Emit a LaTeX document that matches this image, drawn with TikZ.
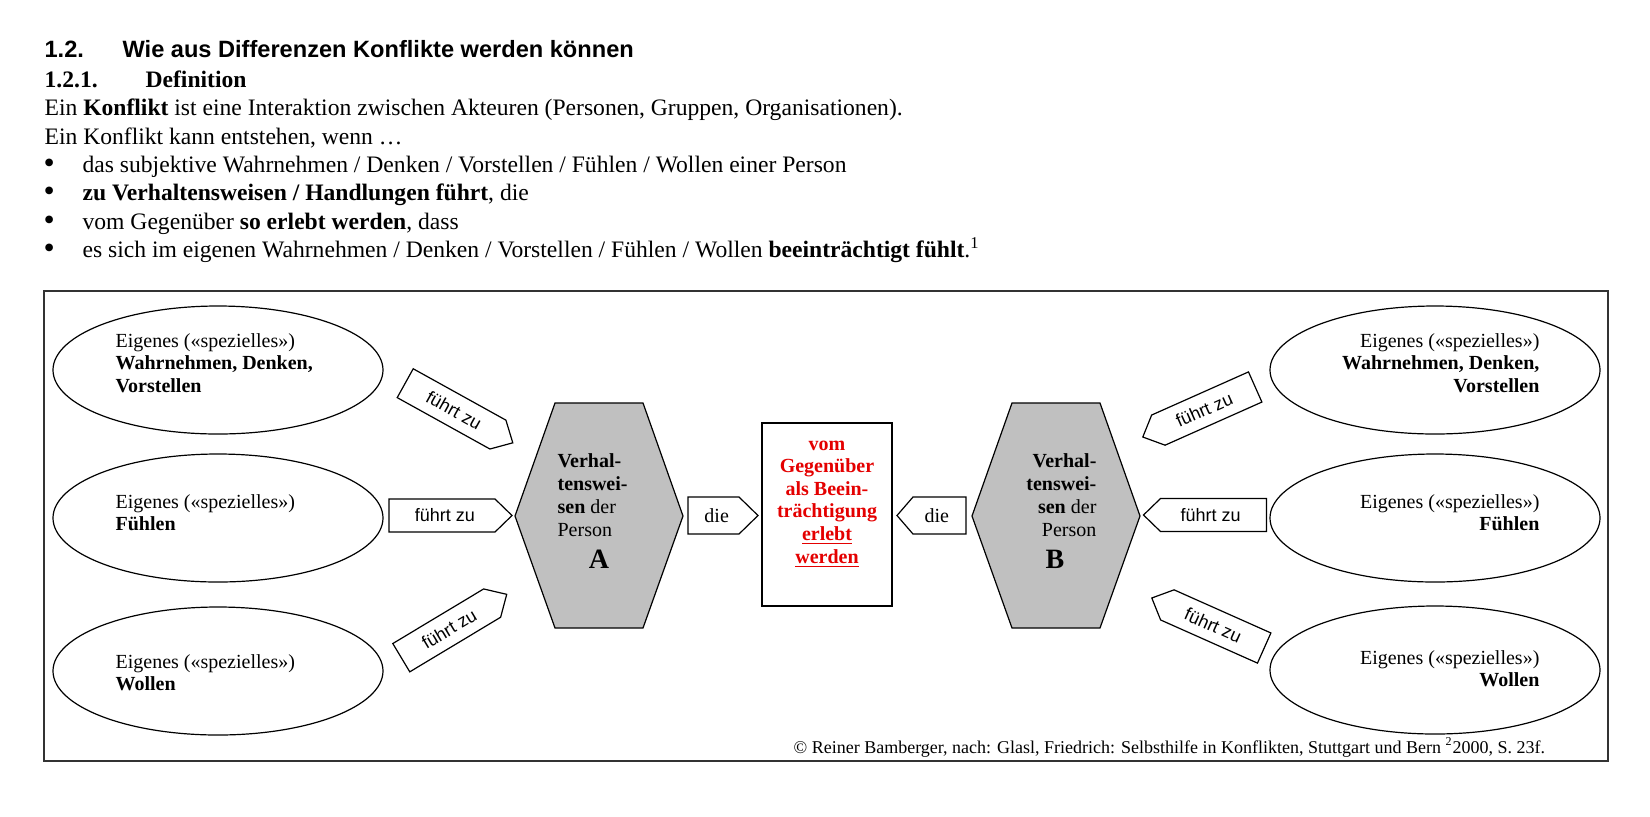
\documentclass[tikz,border=0pt]{standalone}
\usepackage{fontspec}
\setmainfont{Liberation Serif}
\newfontfamily\arialfont{Liberation Sans}
\usetikzlibrary{shapes.geometric}
\definecolor{hexgray}{RGB}{192,192,192}
\definecolor{redtext}{RGB}{228,0,0}
\newcommand\stack[2]{\begin{tabular}[t]{@{}#1@{}}#2\end{tabular}}
% arrow box: name, cx, cy, shape angle, text angle, half length, tip length, half height, text
\newcommand\pfeil[9]{%
  \begin{scope}[shift={(#2,#3)},rotate=#4]
    \draw[pfeilbox] (-#6,-#8) -- ({#6-#7},-#8) -- (#6,0) -- ({#6-#7},#8) -- (-#6,#8) -- cycle;
    \node[rotate=#5,inner sep=0] (#1) at ({-#7/3},0) {#9};
  \end{scope}}
% hexagon: name, cx
\newcommand\hexa[2]{%
  \draw[hexbox] ({#2-84},516) -- ({#2-44},403) -- ({#2+44},403) -- ({#2+84},516)
     -- ({#2+44},628) -- ({#2-44},628) -- cycle;
  \coordinate (#1) at (#2,516);}
\begin{document}
\begin{tikzpicture}[x=0.5pt,y=-0.5pt,
  line width=0.6pt,
  tl/.style={anchor=base west,inner sep=0,font=\fontsize{11.8}{14}\selectfont},
  tlb/.style={tl,font=\bfseries\fontsize{11.8}{14}\selectfont},
  bul/.style={anchor=base west,inner sep=0,font=\fontsize{16}{14}\selectfont},
  hd/.style={anchor=base west,inner sep=0,font=\arialfont\bfseries\fontsize{11.8}{14}\selectfont},
  ell/.style={ellipse,draw,minimum width=165pt,minimum height=64pt,inner sep=0},
  etext/.style={inner sep=0,font=\fontsize{10}{11.25}\selectfont},
  hext/.style={inner sep=0,font=\fontsize{10}{11.5}\selectfont},
  bigl/.style={anchor=base,inner sep=0,font=\bfseries\fontsize{14}{14}\selectfont},
  ctext/.style={anchor=base,inner sep=0,text=redtext,font=\bfseries\fontsize{10}{11.3}\selectfont},
  pfeilbox/.style={draw,fill=white,line width=0.6pt},
  hexbox/.style={draw,fill=hexgray,line width=0.6pt},
]
\useasboundingbox (0,0) rectangle (1650,816);
\fill[white] (0,0) rectangle (1650,816);

% header text
\node[hd] (n12) at (44,57) {1.2.};
\node[hd] (title) at (122,57) {Wie aus Differenzen Konflikte werden können};
\node[tlb] (n121) at (44,87) {1.2.1.};
\node[tlb] (def) at (145,87) {Definition};
\node[tl] (l1) at (44,115.5) {Ein \textbf{Konflikt} ist eine Interaktion zwischen Akteuren (Personen, Gruppen, Organisationen).};
\node[tl] (l2) at (44,144) {Ein Konflikt kann entstehen, wenn …};
\node[bul] (b1) at (43,173) {•};
\node[tl] (l3) at (82,172) {das subjektive Wahrnehmen / Denken / Vorstellen / Fühlen / Wollen einer Person};
\node[bul] (b2) at (43,201.5) {•};
\node[tl] (l4) at (82,200.5) {\textbf{zu Verhaltensweisen / Handlungen führt}, die};
\node[bul] (b3) at (43,230) {•};
\node[tl] (l5) at (82,229) {vom Gegenüber \textbf{so erlebt werden}, dass};
\node[bul] (b4) at (43,258) {•};
\node[tl] (l6) at (82,257) {es sich im eigenen Wahrnehmen / Denken / Vorstellen / Fühlen / Wollen \textbf{beeinträchtigt fühlt}.\textsuperscript{1}};

% frame
\draw[line width=0.8pt,black!80] (44,291) rectangle (1608,761);

% ellipses left
\node[ell] (eL1) at (218,370) {};
\node[ell] (eL2) at (218,518) {};
\node[ell] (eL3) at (218,671) {};
\node[etext,anchor=base west] (tL1) at (115,347) {\stack{l}{Eigenes («spezielles»)\\\textbf{Wahrnehmen, Denken,}\\\textbf{Vorstellen}}};
\node[etext,anchor=base west] (tL2) at (115,508) {\stack{l}{Eigenes («spezielles»)\\\textbf{Fühlen}}};
\node[etext,anchor=base west] (tL3) at (115,668) {\stack{l}{Eigenes («spezielles»)\\\textbf{Wollen}}};

% ellipses right
\node[ell] (eR1) at (1435,370) {};
\node[ell] (eR2) at (1435,518) {};
\node[ell] (eR3) at (1435,670) {};
\node[etext,anchor=base east] (tR1) at (1540,347) {\stack{r}{Eigenes («spezielles»)\\\textbf{Wahrnehmen, Denken,}\\\textbf{Vorstellen}}};
\node[etext,anchor=base east] (tR2) at (1540,508) {\stack{r}{Eigenes («spezielles»)\\\textbf{Fühlen}}};
\node[etext,anchor=base east] (tR3) at (1540,664) {\stack{r}{Eigenes («spezielles»)\\\textbf{Wollen}}};

% hexagons
\hexa{hexA}{599}
\hexa{hexB}{1056}
\node[hext,anchor=base west] (tA) at (557,467) {\stack{l}{\textbf{Verhal-}\\\textbf{tenswei-}\\\textbf{sen} der\\Person}};
\node[bigl] (lA) at (599,568) {A};
\node[hext,anchor=base east] (tB) at (1097,467) {\stack{r}{\textbf{Verhal-}\\\textbf{tenswei-}\\\textbf{sen} der\\Person}};
\node[bigl] (lB) at (1055,568) {B};

% centre box
\node[draw,minimum width=65pt,minimum height=91.5pt,inner sep=0] (box) at (827,514.5) {};
\node[ctext] (tbox) at (827,450) {\stack{c}{vom\\Gegenüber\\als Beein-\\trächtigung\\\underline{erlebt}\\\underline{werden}}};

% arrows "führt zu"
\pfeil{aL1}{459}{413}{-29}{-29}{61.5}{17}{16.5}{\arialfont\fontsize{9}{10}\selectfont führt zu}
\pfeil{aL2}{450.5}{515.5}{0}{0}{61.5}{17}{16.5}{\arialfont\fontsize{9}{10}\selectfont führt zu}
\pfeil{aL3}{454}{626}{31}{31}{61.5}{17}{16.5}{\arialfont\fontsize{9}{10}\selectfont führt zu}
\pfeil{aR1}{1199}{412}{204}{24}{61.5}{17}{16.5}{\arialfont\fontsize{9}{10}\selectfont führt zu}
\pfeil{aR2}{1205}{515}{180}{0}{61.5}{17}{16.5}{\arialfont\fontsize{9}{10}\selectfont führt zu}
\pfeil{aR3}{1208}{623}{156}{-24}{61.5}{17}{16.5}{\arialfont\fontsize{9}{10}\selectfont führt zu}

% arrows "die"
\pfeil{dL}{723}{515.5}{0}{0}{35}{19}{18.5}{\fontsize{10}{11}\selectfont die}
\pfeil{dR}{931.5}{515.5}{180}{0}{34.5}{16}{18.5}{\fontsize{10}{11}\selectfont die}

% footer
\node[anchor=base west,inner sep=0,font=\fontsize{9}{11}\selectfont] (foot) at (793,753) {© Reiner Bamberger, nach: Glasl, Friedrich: Selbsthilfe in Konflikten, Stuttgart und Bern\ \textsuperscript{2}2000, S. 23f.};
\end{tikzpicture}
\end{document}
